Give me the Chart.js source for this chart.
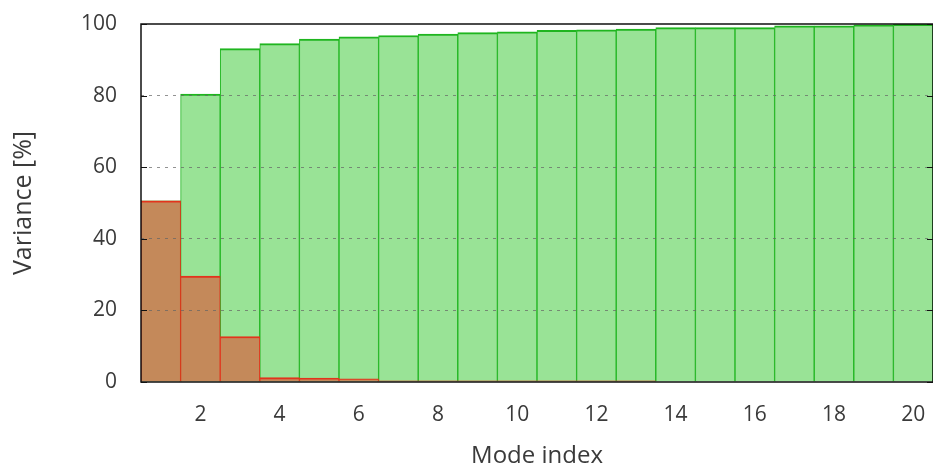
<!DOCTYPE html>
<html>
<head>
<meta charset="utf-8">
<script src="https://cdn.jsdelivr.net/npm/chart.js@4/dist/chart.umd.min.js"></script>
<style>
  html, body { margin: 0; padding: 0; background: #fff; }
  #wrap { width: 933px; height: 471px; }
</style>
</head>
<body>
<div id="wrap"><canvas id="varChart"></canvas></div>
<script>
  // ── data ────────────────────────────────────────────────
  var MODES = ["1", "2", "3", "4", "5", "6", "7", "8", "9", "10",
               "11", "12", "13", "14", "15", "16", "17", "18", "19", "20"];
  // cumulative variance [%]
  var CUMULATIVE = [50.6, 80.4, 93.1, 94.5, 95.8, 96.4, 96.8, 97.2, 97.6, 97.8,
                    98.2, 98.4, 98.6, 99.0, 99.0, 99.0, 99.5, 99.5, 99.8, 99.9];
  // variance per mode [%]
  var SINGLE = [50.6, 29.6, 12.7, 1.2, 1.1, 0.9, 0.35, 0.35, 0.35, 0.35,
                0.35, 0.35, 0.35, 0, 0, 0, 0, 0, 0, 0];
  var Y_TICKS = [0, 20, 40, 60, 80, 100];

  var FONT = "'Open Sans', 'Liberation Sans', sans-serif";
  var TEXT = "#3a3a3a";

  // frame + inward tick marks like the original plot
  var framePlugin = {
    id: "frame",
    afterDraw: function (chart) {
      var a = chart.chartArea, ctx = chart.ctx, y = chart.scales.y;
      ctx.save();
      ctx.strokeStyle = "#111";
      ctx.lineWidth = 1.5;
      ctx.strokeRect(a.left, a.top, a.right - a.left, a.bottom - a.top);
      ctx.lineWidth = 1.2;
      Y_TICKS.forEach(function (v) {
        var py = Math.round(y.getPixelForValue(v)) + 0.5;
        ctx.beginPath();
        ctx.moveTo(a.left, py); ctx.lineTo(a.left + 6, py);
        ctx.moveTo(a.right, py); ctx.lineTo(a.right - 6, py);
        ctx.stroke();
      });
      ctx.restore();
    }
  };

  function barSet(label, data, order, fill, line) {
    return {
      label: label,
      data: data,
      order: order,
      grouped: false,
      backgroundColor: fill,
      borderColor: line,
      borderWidth: { top: 2, left: 1, right: 1, bottom: 0 },
      borderSkipped: "start",
      categoryPercentage: 1,
      barPercentage: 1
    };
  }

  new Chart(document.getElementById("varChart").getContext("2d"), {
    type: "bar",
    data: {
      labels: MODES,
      datasets: [
        barSet("single", SINGLE, 0, "#c4895a", "#e2341c"),
        barSet("cumulative", CUMULATIVE, 1, "#99e396", "#1fb51f")
      ]
    },
    options: {
      responsive: true,
      maintainAspectRatio: false,
      animation: false,
      layout: { padding: { top: 24, right: 0, left: 0, bottom: 0 } },
      plugins: { legend: { display: false }, tooltip: { enabled: false } },
      scales: {
        x: {
          grid: { display: false },
          border: { display: false },
          ticks: {
            autoSkip: false,
            maxRotation: 0,
            padding: 12,
            color: TEXT,
            font: { family: FONT, size: 21 },
            callback: function (val) {
              var l = this.getLabelForValue(val);
              return parseInt(l, 10) % 2 === 0 ? l : "";
            }
          },
          title: {
            display: true,
            text: "Mode index",
            color: TEXT,
            font: { family: FONT, size: 24 },
            padding: { top: 9, bottom: 0 }
          },
          afterFit: function (s) {
            s.height = 89;
            s.paddingLeft = 0; s.paddingRight = 0;
          }
        },
        y: {
          min: 0,
          max: 100,
          afterBuildTicks: function (s) {
            s.ticks = Y_TICKS.map(function (v) { return { value: v }; });
          },
          grid: {
            z: 1,
            drawTicks: false,
            lineWidth: 1,
            color: function (ctx) {
              var v = ctx.tick && ctx.tick.value;
              return (v === 0 || v === 100) ? "rgba(0,0,0,0)" : "rgba(100,100,100,0.7)";
            }
          },
          border: { display: false, dash: [3, 5] },
          ticks: {
            padding: 24,
            color: TEXT,
            font: { family: FONT, size: 21 }
          },
          title: {
            display: true,
            text: "Variance [%]",
            color: TEXT,
            font: { family: FONT, size: 25 },
            padding: { top: 9, bottom: 0 }
          },
          afterFit: function (s) {
            s.width = 141;
            s.paddingTop = 0; s.paddingBottom = 0;
          }
        }
      }
    },
    plugins: [framePlugin]
  });
</script>
</body>
</html>
